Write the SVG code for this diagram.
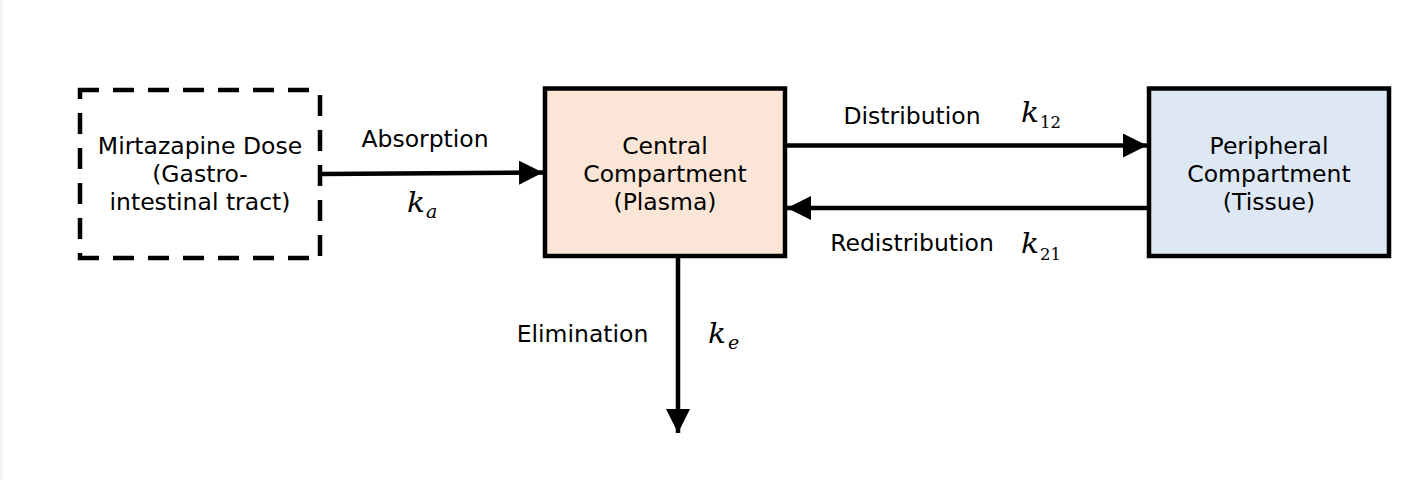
<svg xmlns="http://www.w3.org/2000/svg" width="1424" height="480" viewBox="0 0 1424 480">
<style>
.lbl{font-family:"DejaVu Sans","Verdana",sans-serif;font-size:23.5px;fill:#000;text-anchor:middle}
.box{stroke:#000;stroke-width:4.5}
.dash{fill:none;stroke:#000;stroke-width:4.5;stroke-dasharray:21 14;stroke-linecap:butt}
.conn{fill:none;stroke:#000;stroke-width:4.5}
.mk{font-family:"DejaVu Serif",serif;font-style:italic;font-size:27px;fill:#000}
.subi{font-family:"DejaVu Serif",serif;font-style:italic;font-size:19px;fill:#000}
.subn{font-family:"DejaVu Serif",serif;font-size:16.5px;fill:#000}
</style>
<defs>
<marker id="ah" markerUnits="userSpaceOnUse" markerWidth="24" markerHeight="24" viewBox="0 0 24 24" refX="24" refY="12" orient="auto">
<path d="M0,0 L24,12 L0,24 Z" fill="#000"/>
</marker>
</defs>
<rect x="0" y="0" width="1424" height="480" fill="#fff"/>
<rect x="0" y="0" width="3" height="480" fill="#f2f2f2"/>

<g id="dose">
<path class="dash" d="M78,90 H322"/>
<path class="dash" d="M78,258 H322"/>
<path class="dash" d="M80,88 V260" stroke-dashoffset="10"/>
<path class="dash" d="M320,88 V260" stroke-dashoffset="28"/>
<text class="lbl" x="200" y="154">Mirtazapine Dose</text>
<text class="lbl" x="200" y="182">(Gastro-</text>
<text class="lbl" x="200" y="210">intestinal tract)</text>
</g>

<g id="central">
<rect class="box" x="545" y="88.5" width="240" height="167.5" fill="#fae5d7"/>
<text class="lbl" x="665" y="154">Central</text>
<text class="lbl" x="665" y="182">Compartment</text>
<text class="lbl" x="665" y="210">(Plasma)</text>
</g>

<g id="peripheral">
<rect class="box" x="1149" y="88.5" width="240" height="167.5" fill="#dde8f4"/>
<text class="lbl" x="1269" y="154">Peripheral</text>
<text class="lbl" x="1269" y="182">Compartment</text>
<text class="lbl" x="1269" y="210">(Tissue)</text>
</g>

<g id="connectors">
<path class="conn" d="M322,174 L543,172.5" marker-end="url(#ah)"/>
<path class="conn" d="M787,145.5 H1147" marker-end="url(#ah)"/>
<path class="conn" d="M1147,208 H787" marker-end="url(#ah)"/>
<path class="conn" d="M678,258 V433" marker-end="url(#ah)"/>
</g>

<g id="labels">
<text class="lbl" x="425" y="147">Absorption</text>
<text class="mk" x="407" y="211.5" textLength="18" lengthAdjust="spacingAndGlyphs">k</text><text class="subi" x="426" y="218">a</text>
<text class="lbl" x="912" y="124">Distribution</text>
<text class="mk" x="1021" y="121.5" textLength="18" lengthAdjust="spacingAndGlyphs">k</text><text class="subn" x="1040" y="128">12</text>
<text class="lbl" x="912" y="251">Redistribution</text>
<text class="mk" x="1021" y="253" textLength="18" lengthAdjust="spacingAndGlyphs">k</text><text class="subn" x="1040" y="260">21</text>
<text class="lbl" x="582.5" y="342">Elimination</text>
<text class="mk" x="708" y="342.5" textLength="18" lengthAdjust="spacingAndGlyphs">k</text><text class="subi" x="728" y="349">e</text>
</g>
</svg>
